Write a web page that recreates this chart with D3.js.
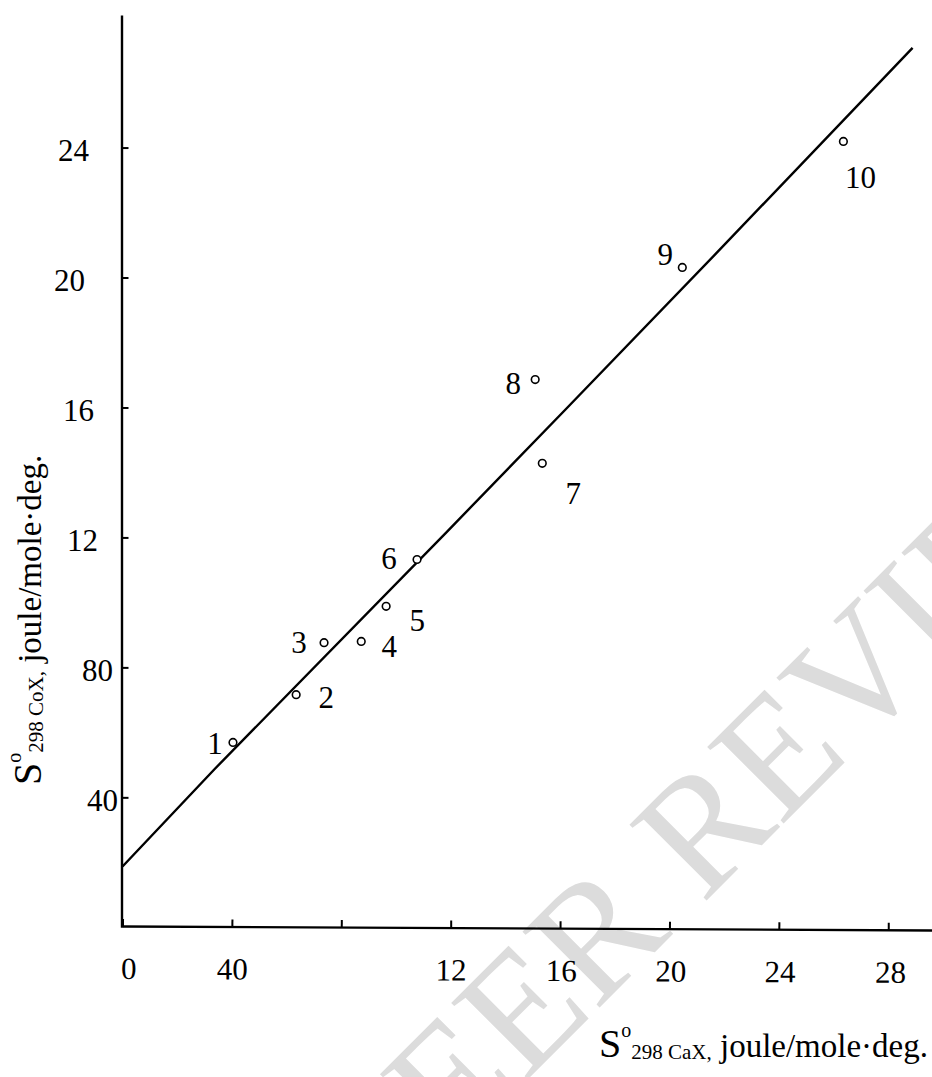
<!DOCTYPE html>
<html>
<head>
<meta charset="utf-8">
<script src="https://cdn.jsdelivr.net/npm/d3@7"></script>
<style>
  html, body { margin: 0; padding: 0; background: #fff; }
  svg { display: block; font-family: "Liberation Serif", "Times New Roman", serif; }
</style>
</head>
<body>
<div id="chart"></div>
<script>
// compounds 1..10, entropy of Ca and Co compounds
const pointIds = ["1", "2", "3", "4", "5", "6", "7", "8", "9", "10"];
const caxValues = [4.04, 6.35, 7.37, 8.73, 9.64, 10.77, 15.35, 15.09, 20.47, 26.36];
const coxValues = [5.69, 7.16, 8.76, 8.80, 9.88, 11.32, 14.28, 16.86, 20.31, 24.19];

// correlation line as drawn
const lineCax = [0, 3.38, 11.87, 16.19, 21.75, 28.89];
const lineCox = [1.87, 4.88, 12.18, 15.93, 20.78, 27.07];

// tick labels as printed in the figure
const xTickValues = [0, 4, 8, 12, 16, 20, 24, 28];
const xTickLabels = ["0", "40", "", "12", "16", "20", "24", "28"];
const yTickValues = [4, 8, 12, 16, 20, 24];
const yTickLabels = ["40", "80", "12", "16", "20", "24"];

// layout only
const labelOffsets = [[-18, 1], [30, 3], [-25, 0], [28, 5], [31, 14], [-28, -1], [31, 30], [-22, 4], [-17, -13], [17, 36]];
const yLabelGap = [3.5, 8.5, 23.5, 27.5, 36.5, 32.5];
const xLabelShift = [6, 0, 0, 0, 1, 1, 1, 2];

const W = 932, H = 1077;
const svg = d3.select("#chart").append("svg").attr("width", W).attr("height", H);

// watermark behind everything
svg.append("text")
    .attr("transform", "translate(388,1219) rotate(-45)")
    .attr("font-size", 165)
    .attr("fill", "#dcdcdc")
    .text("PEER REVIEW");

const x = d3.scaleLinear().domain([0, 29.6]).range([122.5, 932]);
const y = d3.scaleLinear().domain([0, 28.08]).range([927.3, 15]);

// x axis (slightly tilted in the original)
const xAxis = svg.append("g")
    .attr("transform", `rotate(0.28, ${x(0)}, 926) translate(0, 926)`)
    .call(d3.axisBottom(x)
        .tickValues(xTickValues)
        .tickFormat((d, i) => xTickLabels[i])
        .tickSizeInner(-7)
        .tickSizeOuter(0)
        .tickPadding(31));
xAxis.select(".domain").attr("stroke-width", 2.4);
xAxis.selectAll(".tick line").attr("stroke-width", 2);
xAxis.selectAll(".tick text")
    .attr("x", (d, i) => xLabelShift[i])
    .attr("font-size", 31)
    .attr("font-family", "Liberation Serif, serif")
    .attr("fill", "#000");

// y axis
const yAxis = svg.append("g")
    .attr("transform", `translate(${x(0) - 1}, 0)`)
    .call(d3.axisLeft(y)
        .tickValues(yTickValues)
        .tickFormat((d, i) => yTickLabels[i])
        .tickSizeInner(-7)
        .tickSizeOuter(0));
yAxis.select(".domain").attr("stroke-width", 2.4);
yAxis.selectAll(".tick line").attr("stroke-width", 2);
yAxis.selectAll(".tick text")
    .attr("x", (d, i) => -yLabelGap[i])
    .attr("dy", "0.42em")
    .attr("font-size", 31)
    .attr("font-family", "Liberation Serif, serif")
    .attr("fill", "#000");

// correlation line
const lineData = lineCax.map((v, i) => [v, lineCox[i]]);
svg.append("path")
    .datum(lineData)
    .attr("d", d3.line().x(d => x(d[0])).y(d => y(d[1])))
    .attr("fill", "none")
    .attr("stroke", "#000")
    .attr("stroke-width", 2.4);

// points
const pts = pointIds.map((id, i) => ({ id, cax: caxValues[i], cox: coxValues[i], off: labelOffsets[i] }));
svg.append("g").selectAll("circle")
    .data(pts)
    .join("circle")
    .attr("cx", d => x(d.cax))
    .attr("cy", d => y(d.cox))
    .attr("r", 3.8)
    .attr("fill", "#fff")
    .attr("stroke", "#000")
    .attr("stroke-width", 1.6);

svg.append("g").selectAll("text")
    .data(pts)
    .join("text")
    .attr("x", d => x(d.cax) + d.off[0])
    .attr("y", d => y(d.cox) + d.off[1])
    .attr("dy", "0.34em")
    .attr("text-anchor", "middle")
    .attr("font-size", 31)
    .text(d => d.id);

// axis titles
function axisTitle(sel, sub) {
    sel.append("tspan").attr("font-size", 40).text("S");
    sel.append("tspan").attr("font-size", 20).attr("dy", -20).text("o");
    sel.append("tspan").attr("font-size", 21).attr("dy", 22).text(sub);
    sel.append("tspan").attr("font-size", 33).attr("dy", -2).text("\u00a0joule/mole\u00b7deg.");
}

svg.append("text")
    .attr("x", 928)
    .attr("y", 1057)
    .attr("text-anchor", "end")
    .call(axisTitle, "298 CaX,");

svg.append("text")
    .attr("transform", "translate(41, 785) rotate(-90)")
    .call(axisTitle, "298 CoX,");
</script>
</body>
</html>
